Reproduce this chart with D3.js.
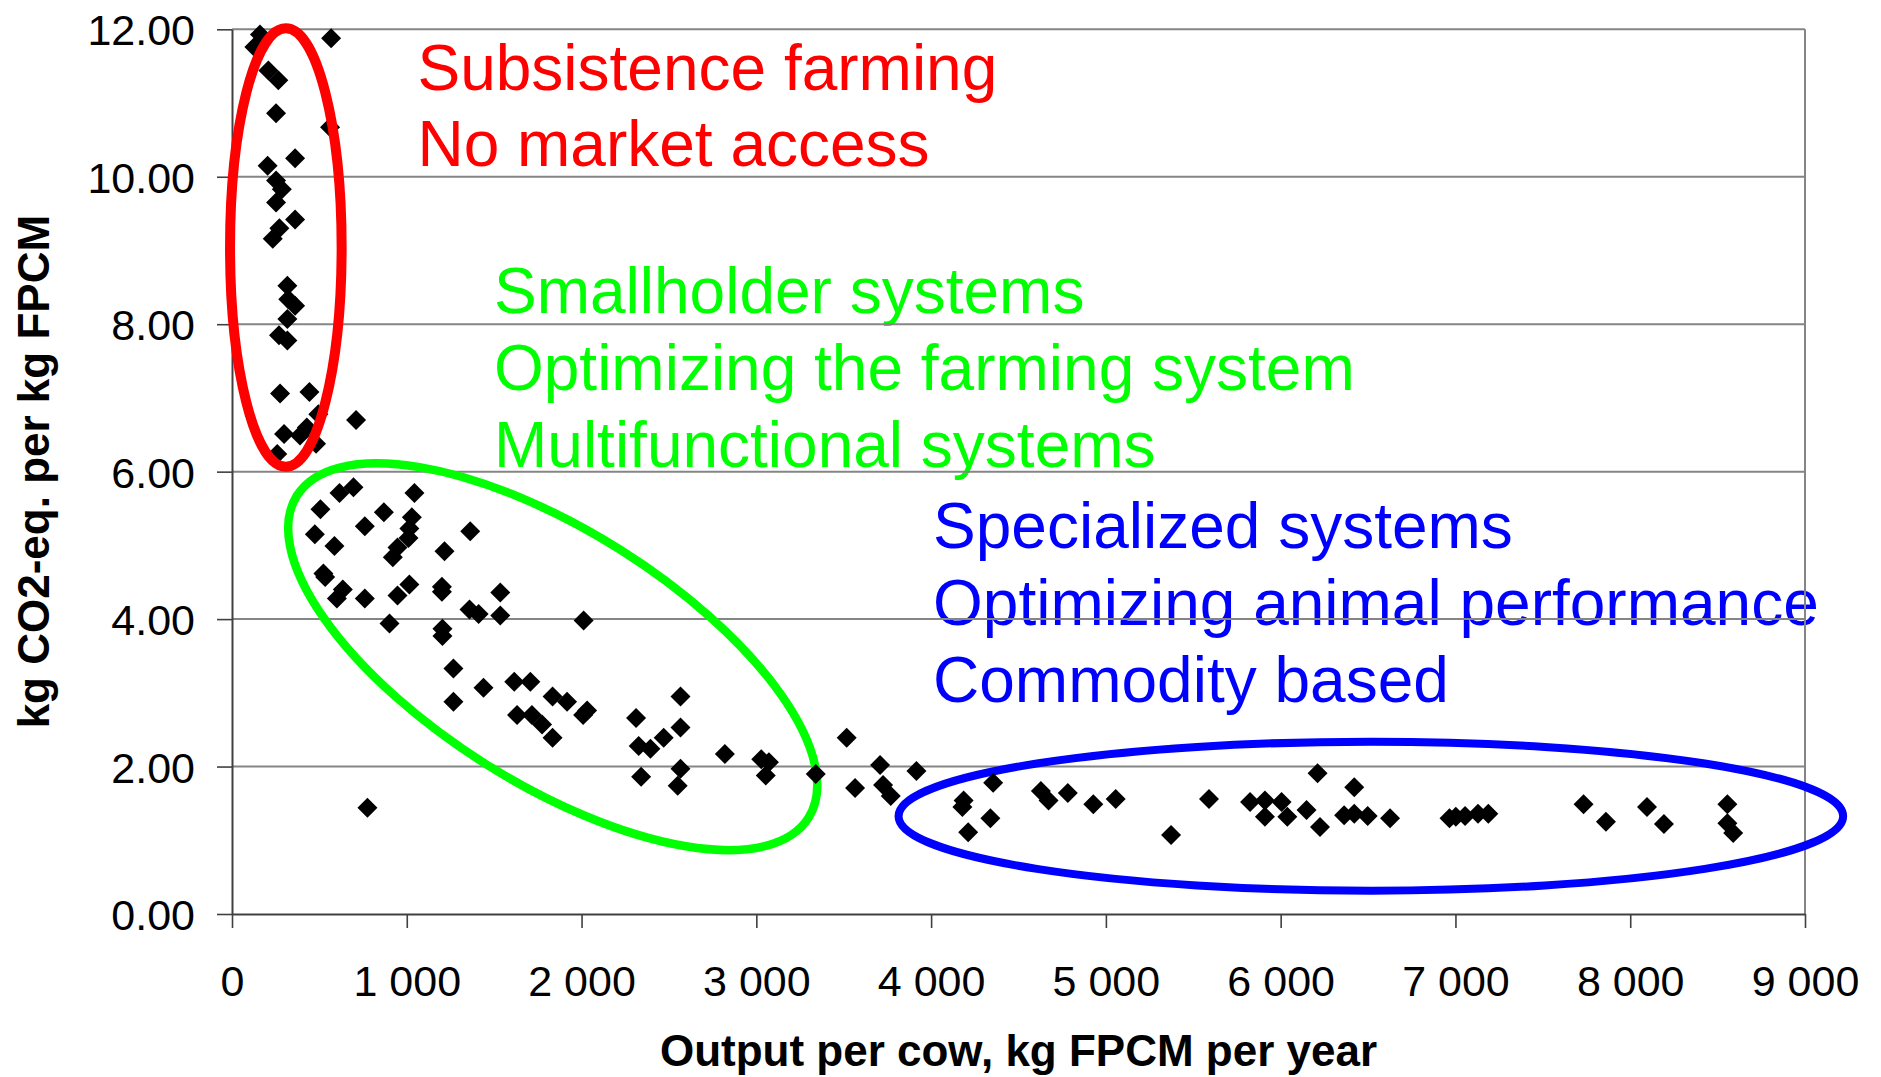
<!DOCTYPE html>
<html>
<head>
<meta charset="utf-8">
<script src="https://cdn.jsdelivr.net/npm/d3@7"></script>
<style>
  html, body { margin: 0; padding: 0; background: #ffffff; }
  svg { display: block; font-family: "Liberation Sans", Arial, Helvetica, sans-serif; }
</style>
</head>
<body>
<svg id="chart" width="1881" height="1077"></svg>
<script>
// ---------------- DATA ----------------
// Subsistence farming cluster (x: kg FPCM per cow per year, y: kg CO2-eq. per kg FPCM)
const subsistenceX = [160, 128, 567, 208, 265, 252, 561, 361, 204, 252, 285, 252, 361, 271, 233,
                      317, 322, 361, 317, 269, 317, 275, 443, 494, 428, 389, 710, 298, 481, 259];
const subsistenceY = [11.93, 11.76, 11.88, 11.44, 11.31, 10.86, 10.67, 10.25, 10.15, 9.95, 9.83, 9.65, 9.42, 9.30, 9.16,
                      8.52, 8.34, 8.25, 8.07, 7.85, 7.78, 7.06, 7.08, 6.78, 6.60, 6.49, 6.70, 6.51, 6.38, 6.24];

// Smallholder systems cluster
const smallholderX = [695, 615, 1044, 506, 869, 1029, 760, 1015, 474, 1010, 1363, 586, 947, 1216, 920,
                      523, 533, 634, 600, 1015, 947, 760, 1201, 1201, 1535, 1359, 1411, 1535, 2012, 901,
                      1204, 1204, 1267, 1439, 1615, 1707, 1267, 1834, 1917, 1631, 1716, 1774, 1834, 2032, 2009,
                      2312, 2566, 2566, 2470, 2327, 2394, 2566, 2341, 2550, 775];
const smallholderY = [5.79, 5.71, 5.71, 5.49, 5.45, 5.38, 5.26, 5.23, 5.15, 5.10, 5.19, 4.99, 4.97, 4.92, 4.84,
                      4.62, 4.57, 4.40, 4.28, 4.47, 4.32, 4.28, 4.44, 4.37, 4.36, 4.13, 4.07, 4.05, 3.98, 3.94,
                      3.87, 3.77, 3.33, 3.07, 3.15, 3.15, 2.88, 2.95, 2.88, 2.70, 2.70, 2.57, 2.39, 2.76, 2.70,
                      2.66, 2.95, 2.53, 2.39, 2.28, 2.24, 1.97, 1.86, 1.74, 1.44];

// Transition and specialized systems
const specializedX = [2820, 3028, 3072, 3054, 3340, 3517, 3565, 3708, 3725, 3769, 3916,
                      4186, 4179, 4212, 4355, 4339, 4628, 4672, 4782, 4928, 5056, 5373, 5590, 5825, 5910,
                      6005, 5910, 6038, 6148, 6211, 6225, 6363, 6421, 6421, 6498, 6626, 6966, 7002, 7055,
                      7129, 7188, 7733, 7861, 8096, 8193, 8556, 8556, 8589];
const specializedY = [2.17, 2.10, 2.06, 1.88, 1.90, 2.39, 1.71, 2.02, 1.75, 1.60, 1.94,
                      1.54, 1.45, 1.11, 1.78, 1.30, 1.67, 1.54, 1.64, 1.49, 1.56, 1.07, 1.56, 1.52, 1.54,
                      1.52, 1.32, 1.32, 1.41, 1.91, 1.18, 1.34, 1.72, 1.36, 1.33, 1.30, 1.30, 1.32, 1.33,
                      1.36, 1.36, 1.49, 1.25, 1.45, 1.22, 1.49, 1.23, 1.10];

const xTicks = [0, 1000, 2000, 3000, 4000, 5000, 6000, 7000, 8000, 9000];
const yTicks = [0, 2, 4, 6, 8, 10, 12];

const xTitle = "Output per cow, kg FPCM per year";
const yTitle = "kg CO2-eq. per kg FPCM";

const subsistenceLabel = ["Subsistence farming", "No market access"];
const smallholderLabel = ["Smallholder systems", "Optimizing the farming system", "Multifunctional systems"];
const specializedLabel = ["Specialized systems", "Optimizing animal performance", "Commodity based"];

// ---------------- CHART ----------------
const svg = d3.select("#chart");
const plot = { left: 232, right: 1805, top: 29.3, bottom: 914 };

const x = d3.scaleLinear().domain([0, 9000]).range([plot.left, plot.right]);
const y = d3.scaleLinear().domain([0, 12]).range([plot.bottom, plot.top]);

const RED = "#FF0000", GREEN = "#00FF00", BLUE = "#0000FF";

// annotation texts (under grid lines)
const annotations = [
  { lines: subsistenceLabel, ax: 1061, ay: 11.18, color: RED },
  { lines: smallholderLabel, ax: 1499, ay: 8.148, color: GREEN },
  { lines: specializedLabel, ax: 4011, ay: 4.96, color: BLUE }
];
const gText = svg.append("g");
annotations.forEach(a => {
  const t = gText.append("text")
    .attr("x", x(a.ax)).attr("y", y(a.ay))
    .attr("fill", a.color)
    .style("font-size", "64px");
  a.lines.forEach((l, i) => {
    t.append("tspan").attr("x", x(a.ax)).attr("dy", i ? 76.7 : 0).text(l);
  });
});

// grid lines and plot border
const gGrid = svg.append("g");
gGrid.selectAll("line.grid")
  .data(yTicks.filter(d => d > 0))
  .join("line")
  .attr("class", "grid")
  .attr("x1", x(0)).attr("x2", x(9000))
  .attr("y1", d => y(d)).attr("y2", d => y(d))
  .attr("stroke", "#858585").attr("stroke-width", 2);
gGrid.append("line")
  .attr("x1", x(9000)).attr("x2", x(9000))
  .attr("y1", y(0)).attr("y2", y(12))
  .attr("stroke", "#858585").attr("stroke-width", 2);

// axes
const spaceLocale = d3.formatLocale({ decimal: ".", thousands: " ", grouping: [3], currency: ["", ""] });
const xAxis = d3.axisBottom(x).tickValues(xTicks).tickFormat(spaceLocale.format(",d"))
  .tickSize(14).tickSizeOuter(0).tickPadding(37);
const yAxis = d3.axisLeft(y).tickValues(yTicks).tickFormat(d3.format(".2f"))
  .tickSize(15).tickSizeOuter(0).tickPadding(22);

const gx = svg.append("g").attr("transform", `translate(0,${plot.bottom})`).call(xAxis);
const gy = svg.append("g").attr("transform", `translate(${plot.left},0)`).call(yAxis);

[gx, gy].forEach(g => {
  g.select(".domain").attr("stroke", "#404040").attr("stroke-width", 2);
  g.selectAll(".tick line").attr("stroke", "#404040").attr("stroke-width", 1.6);
  g.selectAll(".tick text")
    .attr("fill", "#000")
    .style("font-size", "43px")
    .style("font-family", "'Liberation Sans', Arial, Helvetica, sans-serif");
});
gy.selectAll(".tick text").attr("dy", "0.36em");

// axis titles
svg.append("text")
  .attr("x", (plot.left + plot.right) / 2).attr("y", 1066)
  .attr("text-anchor", "middle")
  .style("font-size", "44px").style("font-weight", "bold")
  .attr("fill", "#000")
  .text(xTitle);
svg.append("text")
  .attr("transform", `translate(48.5,${(plot.top + plot.bottom) / 2}) rotate(-90)`)
  .attr("text-anchor", "middle")
  .style("font-size", "44px").style("font-weight", "bold")
  .attr("fill", "#000")
  .text(yTitle);

// group ellipses (annotation shapes; centre in data units, radii in px)
const ellipses = [
  { cx: 1835, cy: 3.49, rx: 302.3, ry: 126.5, rot: 32.2, color: GREEN, sw: 8.5, top: false },
  { cx: 6516, cy: 1.327, rx: 472.3, ry: 74.5, rot: 0, color: BLUE, sw: 8, top: false },
  { cx: 308, cy: 9.04, rx: 55.8, ry: 219.2, rot: 0, color: RED, sw: 10, top: true }
];
function drawEllipses(list) {
  svg.append("g").selectAll("ellipse")
    .data(list)
    .join("ellipse")
    .attr("transform", d => `translate(${x(d.cx)},${y(d.cy)}) rotate(${d.rot})`)
    .attr("rx", d => d.rx).attr("ry", d => d.ry)
    .attr("fill", "none").attr("stroke", d => d.color).attr("stroke-width", d => d.sw);
}
drawEllipses(ellipses.filter(e => !e.top));

// points
const points = [];
subsistenceX.forEach((v, i) => points.push([v, subsistenceY[i]]));
smallholderX.forEach((v, i) => points.push([v, smallholderY[i]]));
specializedX.forEach((v, i) => points.push([v, specializedY[i]]));

const diamond = d3.symbol().type(d3.symbolSquare).size(200);
svg.append("g").selectAll("path")
  .data(points)
  .join("path")
  .attr("d", diamond)
  .attr("transform", d => `translate(${x(d[0])},${y(d[1])}) rotate(45)`)
  .attr("fill", "#000");

drawEllipses(ellipses.filter(e => e.top));
</script>
</body>
</html>
